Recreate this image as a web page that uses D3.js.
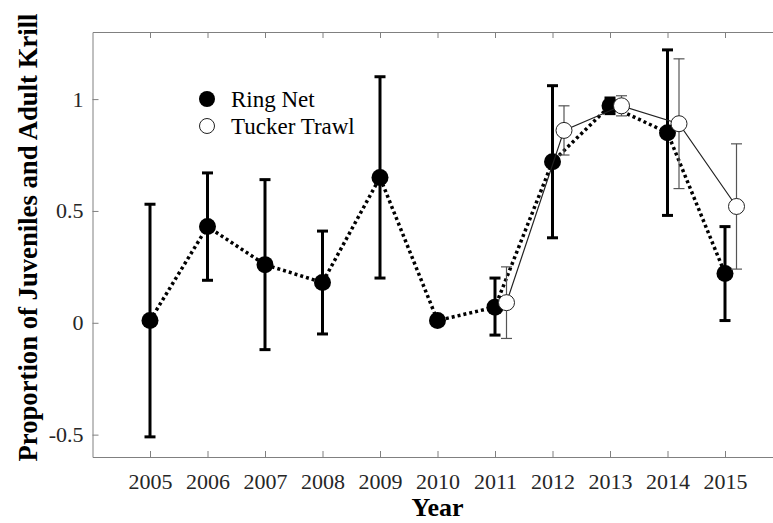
<!DOCTYPE html>
<meta charset="utf-8">
<style>
    body { margin: 0; background: #fff; }
    text { font-family: "Liberation Serif", "Times New Roman", serif; }
    .tick text { fill: #262626; font-size: 22px; }
    .axis path, .axis line { stroke: #808080; }
</style>
<body>
<div id="chart"></div>
<script src="https://cdnjs.cloudflare.com/ajax/libs/d3/7.8.5/d3.min.js"></script>
<script>
    // Ring Net
    var ringYears = [2005, 2006, 2007, 2008, 2009, 2010, 2011, 2012, 2013, 2014, 2015];
    var ringMean  = [0.01, 0.43, 0.26, 0.18, 0.65, 0.01, 0.07, 0.72, 0.97, 0.85, 0.22];
    var ringLow   = [-0.51, 0.19, -0.12, -0.05, 0.20, 0.01, -0.055, 0.38, 0.935, 0.48, 0.01];
    var ringHigh  = [0.53, 0.67, 0.64, 0.41, 1.10, 0.01, 0.20, 1.06, 1.005, 1.22, 0.43];

    // Tucker Trawl (plotted slightly right of the year)
    var tuckYears = [2011, 2012, 2013, 2014, 2015];
    var tuckMean  = [0.09, 0.86, 0.97, 0.89, 0.52];
    var tuckLow   = [-0.07, 0.75, 0.925, 0.60, 0.24];
    var tuckHigh  = [0.25, 0.97, 1.015, 1.18, 0.80];
    var tuckOffset = 0.2;

    var xTicks = [2005, 2006, 2007, 2008, 2009, 2010, 2011, 2012, 2013, 2014, 2015];
    var yTicks = [-0.5, 0, 0.5, 1];

    var W = 773, H = 523;
    var margin = {top: 32, left: 92.5, right: -9.5, bottom: 66};
    var width = W - margin.left - margin.right,
        height = H - margin.top - margin.bottom;

    var svg = d3.select("#chart").append("svg")
        .attr("width", W)
        .attr("height", H);

    var g = svg.append("g")
        .attr("transform", "translate(" + margin.left + "," + margin.top + ")");

    var x = d3.scaleLinear().domain([2004, 2016]).range([0, width]);
    var y = d3.scaleLinear().domain([-0.6, 1.3]).range([height, 0]);

    var ring = ringYears.map(function (d, i) {
        return {x: d, m: ringMean[i], lo: ringLow[i], hi: ringHigh[i]};
    });
    var tuck = tuckYears.map(function (d, i) {
        return {x: d + tuckOffset, m: tuckMean[i], lo: tuckLow[i], hi: tuckHigh[i]};
    });

    // axes, MATLAB style box with inward ticks
    g.append("g")
        .attr("class", "x axis")
        .attr("transform", "translate(0," + height + ")")
        .call(d3.axisBottom(x).tickValues(xTicks).tickFormat(d3.format("d"))
            .tickSizeInner(-6).tickSizeOuter(0).tickPadding(16));
    g.append("g")
        .attr("class", "x axis top")
        .call(d3.axisTop(x).tickValues(xTicks)
            .tickSizeInner(-6).tickSizeOuter(0));
    g.append("g")
        .attr("class", "y axis")
        .call(d3.axisLeft(y).tickValues(yTicks).tickFormat(d3.format("~g"))
            .tickSizeInner(-6).tickSizeOuter(0).tickPadding(9));
    g.append("g")
        .attr("class", "y axis right")
        .attr("transform", "translate(" + width + ",0)")
        .call(d3.axisRight(y).tickValues(yTicks)
            .tickSizeInner(-6).tickSizeOuter(0));

    // the mirrored box sides carry ticks only
    g.selectAll(".top .tick text, .right .tick text").remove();

    // MATLAB uses a plain hyphen for negatives
    g.selectAll(".y.axis .tick text").text(function (d) { return String(d); });

    function errorBars(data, cls, color, sw) {
        var eb = g.append("g").attr("class", cls);
        var cap = 5.5;
        data.filter(function (d) { return d.hi > d.lo; }).forEach(function (d) {
            var cx = x(d.x);
            eb.append("line").attr("x1", cx).attr("x2", cx)
                .attr("y1", y(d.lo)).attr("y2", y(d.hi));
            eb.append("line").attr("x1", cx - cap).attr("x2", cx + cap)
                .attr("y1", y(d.lo)).attr("y2", y(d.lo));
            eb.append("line").attr("x1", cx - cap).attr("x2", cx + cap)
                .attr("y1", y(d.hi)).attr("y2", y(d.hi));
        });
        eb.selectAll("line").attr("stroke", color).attr("stroke-width", sw);
    }

    var line = d3.line()
        .x(function (d) { return x(d.x); })
        .y(function (d) { return y(d.m); });

    // Ring Net
    errorBars(ring, "ring-err", "#000", 3);
    g.append("path")
        .datum(ring)
        .attr("d", line)
        .attr("fill", "none")
        .attr("stroke", "#000")
        .attr("stroke-width", 3.5)
        .attr("stroke-dasharray", "3,3");
    g.selectAll(".ring-dot")
        .data(ring)
        .enter().append("circle")
        .attr("class", "ring-dot")
        .attr("cx", function (d) { return x(d.x); })
        .attr("cy", function (d) { return y(d.m); })
        .attr("r", 8.5)
        .attr("fill", "#000");

    // Tucker Trawl
    errorBars(tuck, "tuck-err", "#555", 1.2);
    g.append("path")
        .datum(tuck)
        .attr("d", line)
        .attr("fill", "none")
        .attr("stroke", "#222")
        .attr("stroke-width", 1.2);
    g.selectAll(".tuck-dot")
        .data(tuck)
        .enter().append("circle")
        .attr("class", "tuck-dot")
        .attr("cx", function (d) { return x(d.x); })
        .attr("cy", function (d) { return y(d.m); })
        .attr("r", 8)
        .attr("fill", "#fff")
        .attr("stroke", "#222")
        .attr("stroke-width", 1);

    // legend
    var legend = svg.append("g").attr("transform", "translate(207,99)");
    legend.append("circle").attr("cx", 0).attr("cy", 0).attr("r", 8).attr("fill", "#000");
    legend.append("circle").attr("cx", 0).attr("cy", 27).attr("r", 7.5)
        .attr("fill", "#fff").attr("stroke", "#222").attr("stroke-width", 1);
    legend.append("text").attr("x", 24).attr("y", 7.5).attr("font-size", 23)
        .attr("fill", "#000").text("Ring Net");
    legend.append("text").attr("x", 24).attr("y", 34.5).attr("font-size", 23)
        .attr("fill", "#000").text("Tucker Trawl");

    // axis titles
    svg.append("text")
        .attr("x", margin.left + x(2010))
        .attr("y", 516)
        .attr("text-anchor", "middle")
        .attr("font-size", 26)
        .attr("font-weight", "bold")
        .attr("fill", "#000")
        .text("Year");

    svg.append("text")
        .attr("transform", "translate(37,237.5) rotate(-90)")
        .attr("text-anchor", "middle")
        .attr("font-size", 26.7)
        .attr("font-weight", "bold")
        .attr("fill", "#000")
        .text("Proportion of Juveniles and Adult Krill");
</script>
</body>
